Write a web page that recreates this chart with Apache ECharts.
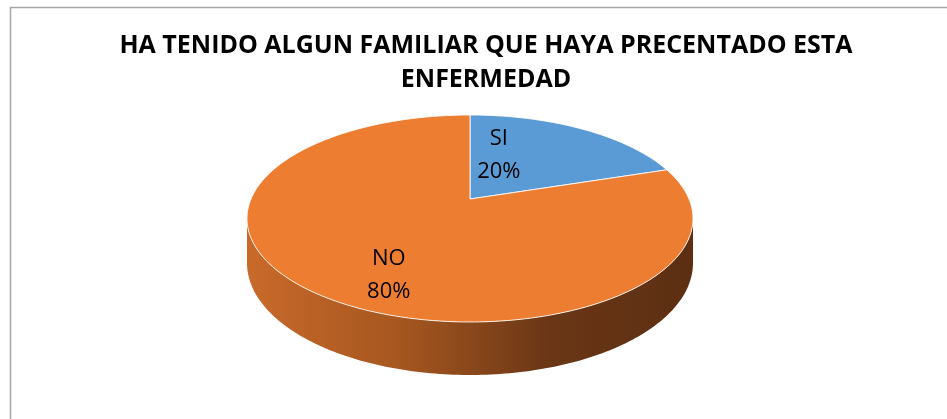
<!DOCTYPE html>
<html>
<head>
<meta charset="utf-8">
<script src="https://cdn.jsdelivr.net/npm/echarts@6/dist/echarts.min.js"></script>
<style>
html,body{margin:0;padding:0;background:#fff;}
#chart{width:947px;height:419px;}
</style>
</head>
<body>
<div id="chart"></div>
<script>
// ---- data ----
const titleText = 'HA TENIDO ALGUN FAMILIAR QUE HAYA PRECENTADO ESTA\nENFERMEDAD';
const categories = ['SI', 'NO'];
const values = [20, 80];

// ---- styling ----
const topColors = ['#5B9BD5', '#ED7D31'];
const sideStops = [
  [{offset:0, color:'#4a7fb0'}, {offset:1, color:'#2c4e6e'}],
  [{offset:0, color:'#C96A2B'}, {offset:0.35, color:'#A5561F'}, {offset:0.68, color:'#6A3616'}, {offset:1, color:'#5C2F12'}]
];
// projection of the tilted disc
const P = {cx: 470, B: 199, K: 219, A: 62.33, C: -0.1884, D: 43};
const labelLayout = [{angle: 16.7, r: 0.5}, {angle: 206, r: 0.74}];

function proj(deg, r, depth) {
  const t = deg * Math.PI / 180;
  const u = r * Math.sin(t), v = -r * Math.cos(t);
  const den = 1 + P.C * v;
  return [P.cx + P.K * u / den, (P.A * v + P.B + depth) / den];
}
const total = values.reduce((a, b) => a + b, 0);
const starts = [];
let acc = 0;
values.forEach(v => { starts.push(acc / total * 360); acc += v; });

const silL = 180 + Math.acos(-P.C) * 180 / Math.PI; // left silhouette
const silR = 180 - Math.acos(-P.C) * 180 / Math.PI; // right silhouette

function arc(a0, a1, depth) {
  const pts = [];
  const n = Math.max(2, Math.ceil(Math.abs(a1 - a0)));
  for (let i = 0; i <= n; i++) pts.push(proj(a0 + (a1 - a0) * i / n, 1, depth));
  return pts;
}

function renderSide(params, api) {
  const i = params.dataIndex;
  const a0 = starts[i], a1 = a0 + api.value(0) / total * 360;
  const lo = Math.max(a0, silR), hi = Math.min(a1, silL);
  if (hi <= lo) return {type: 'group', children: []};
  const pts = arc(lo, hi, 0).concat(arc(hi, lo, P.D));
  return {
    type: 'polygon',
    shape: {points: pts},
    style: {
      fill: {type: 'linear', x: 247, y: 0, x2: 693, y2: 0, global: true, colorStops: sideStops[i]},
      stroke: null
    }
  };
}

function renderTop(params, api) {
  const i = params.dataIndex;
  const a0 = starts[i], a1 = a0 + api.value(0) / total * 360;
  const pts = [proj(0, 0, 0)].concat(arc(a0, a1, 0));
  const lp = proj(labelLayout[i].angle, labelLayout[i].r, 0);
  const pct = Math.round(api.value(0) / total * 100) + '%';
  return {
    type: 'group',
    children: [
      {type: 'polygon', shape: {points: pts},
       style: {fill: topColors[i], stroke: 'rgba(255,255,255,0.85)', lineWidth: 1}},
      {type: 'text', z2: 10,
       style: {text: categories[i] + '\n' + pct, x: lp[0], y: lp[1],
               align: 'center', verticalAlign: 'middle',
               fontFamily: 'Open Sans', fontSize: 22, lineHeight: 33, fill: '#000'}}
    ]
  };
}

const data = values.map((v, i) => ({name: categories[i], value: v}));
const chart = echarts.init(document.getElementById('chart'), null, {renderer: 'canvas'});
chart.setOption({
  animation: false,
  backgroundColor: '#fff',
  title: {
    text: titleText,
    left: 486, top: 29, textAlign: 'center', padding: 0,
    textStyle: {fontFamily: 'Open Sans', fontWeight: 'bold', fontSize: 25, lineHeight: 34, color: '#000'}
  },
  graphic: [{
    type: 'rect', silent: true, z: -1,
    shape: {x: 10.5, y: 7.5, width: 940, height: 430},
    style: {fill: null, stroke: '#A6A6A6', lineWidth: 1.5}
  }],
  series: [
    {type: 'custom', coordinateSystem: 'none', renderItem: renderSide, data: data, z: 1},
    {type: 'custom', coordinateSystem: 'none', renderItem: renderTop, data: data, z: 2}
  ]
});
</script>
</body>
</html>
